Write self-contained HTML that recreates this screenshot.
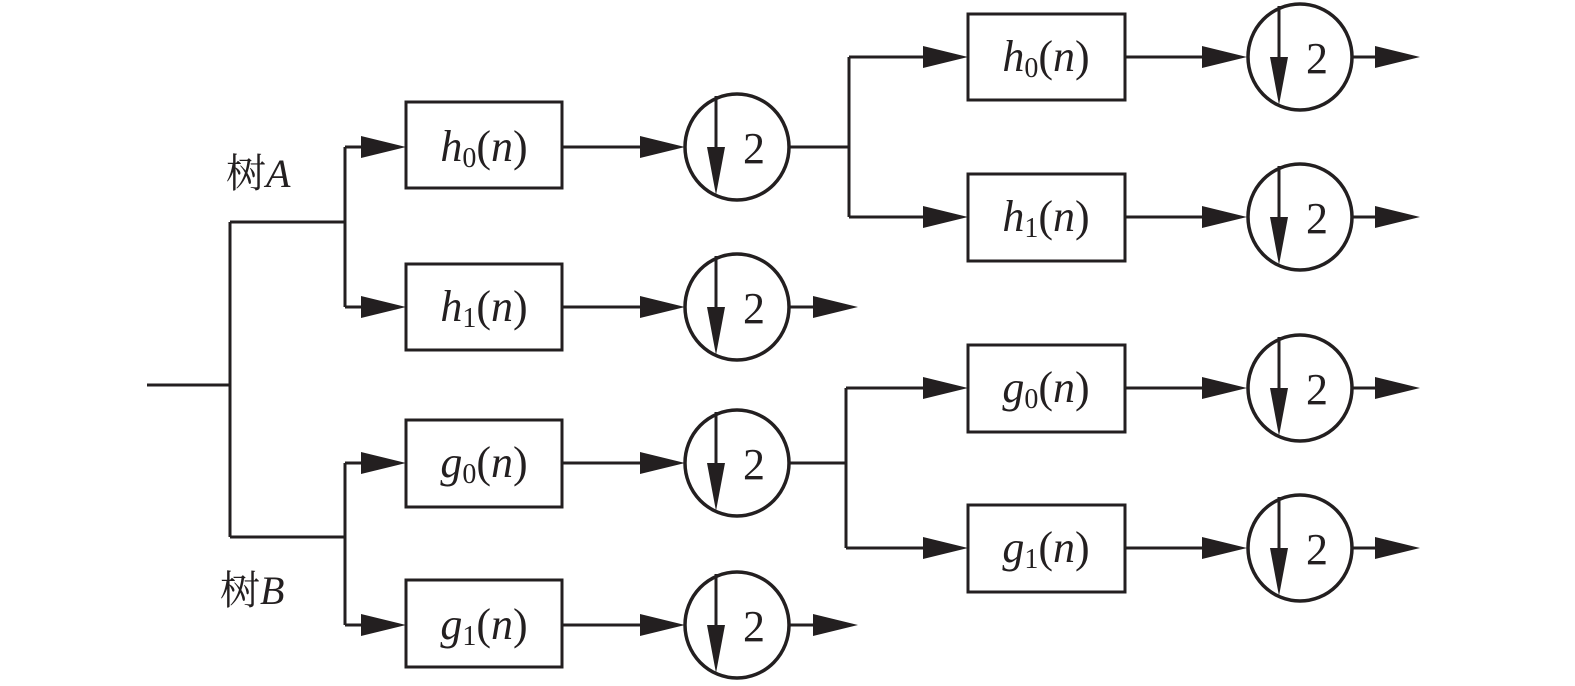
<!DOCTYPE html>
<html><head><meta charset="utf-8"><style>
html,body{margin:0;padding:0;background:#fff;}
svg{display:block;}
text{font-family:"Liberation Serif","Noto Serif CJK SC",serif;fill:#231f20;}
</style></head><body>
<svg width="1575" height="686" viewBox="0 0 1575 686" xmlns="http://www.w3.org/2000/svg">
<defs>
<g id="ds">
<ellipse cx="0" cy="0" rx="52" ry="53" fill="none" stroke="#231f20" stroke-width="3.5"/>
<line x1="-21" y1="-51" x2="-21" y2="10" stroke="#231f20" stroke-width="3"/>
<polygon points="-30,0 -12,0 -21,48" fill="#231f20"/>
<text x="6" y="16" font-size="44">2</text>
</g>
<polygon id="ah" points="0,0 -45,-11 -45,11" fill="#231f20"/>
</defs>
<g stroke="#231f20" stroke-width="3" fill="none">
<path d="M147 385H230M230 222V537M230 222H345M345 147V307M230 537H345M345 463V625"/>
<path d="M345 147H370M345 307H370M345 463H370M345 625H370"/>
<path d="M562 147H650M562 307H650M562 463H650M562 625H650"/>
<path d="M790 307H820M790 625H820"/>
<path d="M790 147H849M849 57V217M849 57H930M849 217H930"/>
<path d="M1125 57H1210M1125 217H1210"/>
<path d="M1353 57H1380M1353 217H1380M1353 388H1380M1353 548H1380"/>
<path d="M790 463H846M846 388V548M846 388H930M846 548H930"/>
<path d="M1125 388H1210M1125 548H1210"/>
<rect x="406" y="102" width="156" height="86"/>
<rect x="406" y="264" width="156" height="86"/>
<rect x="406" y="420" width="156" height="87"/>
<rect x="406" y="580" width="156" height="87"/>
<rect x="968" y="14" width="157" height="86"/>
<rect x="968" y="174" width="157" height="87"/>
<rect x="968" y="345" width="157" height="87"/>
<rect x="968" y="505" width="157" height="87"/>
</g>
<use href="#ah" x="406" y="147"/><use href="#ah" x="406" y="307"/><use href="#ah" x="406" y="463"/><use href="#ah" x="406" y="625"/>
<use href="#ah" x="685" y="147"/><use href="#ah" x="685" y="307"/><use href="#ah" x="685" y="463"/><use href="#ah" x="685" y="625"/>
<use href="#ah" x="858" y="307"/><use href="#ah" x="858" y="625"/>
<use href="#ah" x="968" y="57"/><use href="#ah" x="968" y="217"/><use href="#ah" x="968" y="388"/><use href="#ah" x="968" y="548"/>
<use href="#ah" x="1247" y="57"/><use href="#ah" x="1247" y="217"/><use href="#ah" x="1247" y="388"/><use href="#ah" x="1247" y="548"/>
<use href="#ah" x="1420" y="57"/><use href="#ah" x="1420" y="217"/><use href="#ah" x="1420" y="388"/><use href="#ah" x="1420" y="548"/>
<use href="#ds" x="737" y="147"/><use href="#ds" x="737" y="307"/><use href="#ds" x="737" y="463"/><use href="#ds" x="737" y="625"/>
<use href="#ds" x="1300" y="57"/><use href="#ds" x="1300" y="217"/><use href="#ds" x="1300" y="388"/><use href="#ds" x="1300" y="548"/>
<g font-size="44" text-anchor="middle">
<text x="484" y="161"><tspan font-style="italic">h</tspan><tspan font-size="28" dy="6">0</tspan><tspan dy="-6">(</tspan><tspan font-style="italic">n</tspan>)</text>
<text x="484" y="321"><tspan font-style="italic">h</tspan><tspan font-size="28" dy="6">1</tspan><tspan dy="-6">(</tspan><tspan font-style="italic">n</tspan>)</text>
<text x="484" y="477"><tspan font-style="italic">g</tspan><tspan font-size="28" dy="6">0</tspan><tspan dy="-6">(</tspan><tspan font-style="italic">n</tspan>)</text>
<text x="484" y="639"><tspan font-style="italic">g</tspan><tspan font-size="28" dy="6">1</tspan><tspan dy="-6">(</tspan><tspan font-style="italic">n</tspan>)</text>
<text x="1046" y="71"><tspan font-style="italic">h</tspan><tspan font-size="28" dy="6">0</tspan><tspan dy="-6">(</tspan><tspan font-style="italic">n</tspan>)</text>
<text x="1046" y="231"><tspan font-style="italic">h</tspan><tspan font-size="28" dy="6">1</tspan><tspan dy="-6">(</tspan><tspan font-style="italic">n</tspan>)</text>
<text x="1046" y="402"><tspan font-style="italic">g</tspan><tspan font-size="28" dy="6">0</tspan><tspan dy="-6">(</tspan><tspan font-style="italic">n</tspan>)</text>
<text x="1046" y="562"><tspan font-style="italic">g</tspan><tspan font-size="28" dy="6">1</tspan><tspan dy="-6">(</tspan><tspan font-style="italic">n</tspan>)</text>
</g>
<text x="226" y="187" font-size="40">树<tspan font-style="italic">A</tspan></text>
<text x="220" y="604" font-size="40">树<tspan font-style="italic">B</tspan></text>
</svg>
</body></html>
